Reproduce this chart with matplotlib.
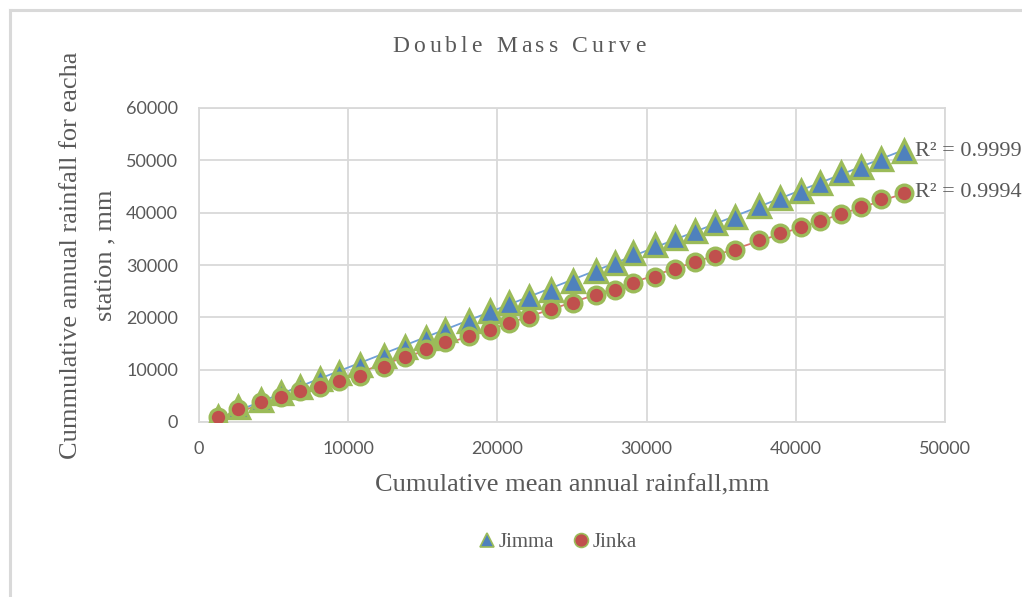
import numpy as np
import matplotlib
matplotlib.use("Agg")
import matplotlib.pyplot as plt
from matplotlib.lines import Line2D

# cumulative mean annual rainfall (x) and per-station cumulative rainfall, mm
mean_cum = [1250, 2630, 4140, 5500, 6790, 8130, 9400, 10770, 12380, 13810,
            15240, 16490, 18100, 19500, 20800, 22100, 23570, 25090, 26610, 27880,
            29110, 30580, 31900, 33240, 34580, 35920, 37550, 38940, 40330, 41620,
            43050, 44390, 45690, 47250]
jimma = [1010, 2810, 4200, 5480, 6630, 8160, 9420, 10890, 12610, 14390,
         15990, 17600, 19360, 21270, 22680, 23830, 25230, 27000, 28910, 30330,
         32240, 33820, 35100, 36560, 37970, 39230, 41280, 42750, 44200, 45610,
         47520, 48790, 50200, 51700]
jinka = [1010, 2430, 3880, 4840, 5920, 6630, 7890, 8790, 10570, 12360,
         13900, 15250, 16430, 17580, 18860, 20010, 21540, 22800, 24270, 25230,
         26620, 27710, 29180, 30630, 31720, 32870, 34780, 36170, 37210, 38470,
         39750, 41140, 42560, 43820]
r2_labels = ["R² = 0.9999", "R² = 0.9994"]

x = np.array(mean_cum, dtype=float)
y1 = np.array(jimma, dtype=float)
y2 = np.array(jinka, dtype=float)

W, H = 1022, 597
fig = plt.figure(figsize=(W / 100, H / 100), dpi=100)
ax = fig.add_axes([199 / W, 1 - 422 / H, 746 / W, 314 / H])

grid_c = "#d9d9d9"
text_c = "#595959"
serif = ["Liberation Serif", "DejaVu Serif"]

# outer chart border, only left and top edges fall inside the image
fig.add_artist(Line2D([9.5 / W, 9.5 / W], [0, 1 - 9.5 / H], transform=fig.transFigure,
                      color=grid_c, linewidth=2.2))
fig.add_artist(Line2D([9.5 / W, 1], [1 - 9.5 / H, 1 - 9.5 / H], transform=fig.transFigure,
                      color=grid_c, linewidth=2.2))

blue = "#4f81bd"
red = "#c0504d"
green = "#9bbb59"

# linear trendlines
for yy, c in [(y1, "#6f9fd8"), (y2, "#d9736f")]:
    k, b = np.polyfit(x, yy, 1)
    xs = np.array([x.min(), x.max()])
    ax.plot(xs, k * xs + b, color=c, linewidth=1.3, zorder=2)

ax.plot(x, y1, linestyle="none", marker="^", markersize=16,
        markerfacecolor=blue, markeredgecolor=green, markeredgewidth=2.4, zorder=3)
ax.plot(x, y2, linestyle="none", marker="o", markersize=12,
        markerfacecolor=red, markeredgecolor=green, markeredgewidth=2.4, zorder=4)

ax.set_xlim(0, 50000)
ax.set_ylim(0, 60000)
ax.set_xticks(np.arange(0, 50001, 10000))
ax.set_yticks(np.arange(0, 60001, 10000))
ax.grid(True, color=grid_c, linewidth=1.3)
ax.set_axisbelow(True)
for s in ax.spines.values():
    s.set_color(grid_c)
    s.set_linewidth(1.3)
ax.tick_params(length=0, labelsize=13, labelcolor=text_c)
ax.tick_params(axis="x", pad=14)
ax.tick_params(axis="y", pad=15)
for lab in ax.get_xticklabels() + ax.get_yticklabels():
    lab.set_fontfamily(["Lato", "DejaVu Sans"])

ax.set_xlabel("Cumulative mean annual rainfall,mm", fontfamily=serif,
              fontsize=19, color=text_c, labelpad=12)
ax.set_ylabel("Cummulative annual rainfall for eacha\nstation , mm", fontfamily=serif,
              fontsize=19, color=text_c, labelpad=7, linespacing=1.75)
ax.yaxis.label.set_y(0.53)

# R² labels beside the last points
ax.text(x[-1] + 750, y1[-1], r2_labels[0], fontfamily=serif, fontsize=16,
        color=text_c, va="center", ha="left", clip_on=False)
ax.text(x[-1] + 750, y2[-1], r2_labels[1], fontfamily=serif, fontsize=16,
        color=text_c, va="center", ha="left", clip_on=False)


def tracked_text(fig, cx, cy, s, track, **kw):
    # draw a string with extra letter spacing, centred on (cx, cy) in pixels
    r = fig.canvas.get_renderer()

    def width(t):
        tt = fig.text(0, 0, t, **kw)
        w = tt.get_window_extent(r).width
        tt.remove()
        return w

    base = width("xx")
    adv = [width("x" + ch + "x") - base for ch in s]
    total = sum(adv) + track * (len(s) - 1)
    px = cx - total / 2
    for ch, a in zip(s, adv):
        fig.text(px / W, 1 - cy / H, ch, va="center", ha="left", **kw)
        px += a + track


tracked_text(fig, 519, 46, "Double Mass Curve", 4.0,
             fontfamily=serif, fontsize=17, color=text_c)

handles = [Line2D([], [], linestyle="none", marker="^", markersize=10,
                  markerfacecolor=blue, markeredgecolor=green, markeredgewidth=1.2),
           Line2D([], [], linestyle="none", marker="o", markersize=10,
                  markerfacecolor=red, markeredgecolor=green, markeredgewidth=1.2)]
fig.legend(handles, ["Jimma", "Jinka"], loc="center", bbox_to_anchor=(557 / W, 1 - 542 / H),
           ncol=2, frameon=False, prop={"family": serif, "size": 15},
           handletextpad=0.05, columnspacing=0.8, handlelength=1.0, labelcolor=text_c)

fig.savefig("out.png", dpi=100)
